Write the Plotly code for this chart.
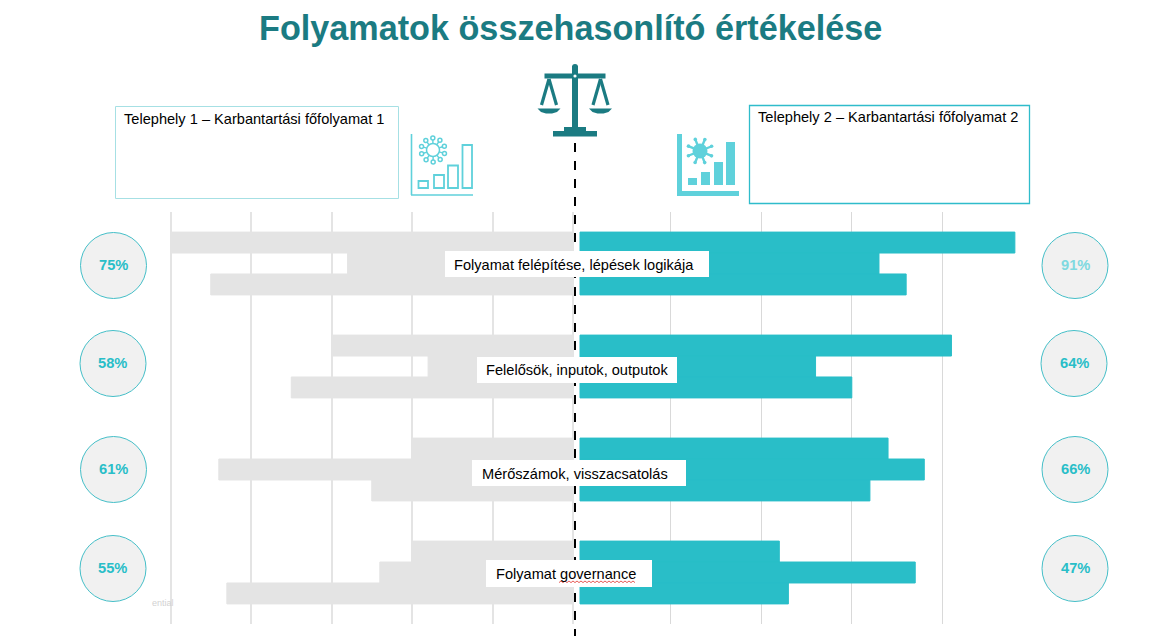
import math
import plotly.graph_objects as go

W, H = 1152, 636
FONT = "Liberation Sans"
TEAL = "#1B7B82"
CYAN = "#29BEC8"
ICON = "#5FD1DB"

categories = ["Folyamat felépítése, lépések logikája", "Felelősök, inputok, outputok",
              "Mérőszámok, visszacsatolás", "Folyamat governance"]
left_a = [100, 60, 40, 40]
left_b = [56, 36, 88, 48]
left_c = [90, 70, 50, 86]
right_a = [96, 82, 68, 44]
right_b = [66, 52, 76, 74]
right_c = [72, 60, 64, 46]
left_pct = ["75%", "58%", "61%", "55%"]
right_pct = ["91%", "64%", "66%", "47%"]
title = "Folyamatok összehasonlító értékelése"
site_1 = "Telephely 1 – Karbantartási főfolyamat 1"
site_2 = "Telephely 2 – Karbantartási főfolyamat 2"


def px(x):
    return x / W


def py(y):
    return 1 - y / H


fig = go.Figure()
for vals, name in zip([left_a, left_b, left_c], ["T1-A", "T1-B", "T1-C"]):
    fig.add_trace(go.Bar(y=categories, x=vals, orientation="h", name=name, xaxis="x", yaxis="y",
                         marker=dict(color="#E4E4E4", line=dict(width=1, color="#E4E4E4"))))
for vals, name in zip([right_a, right_b, right_c], ["T2-A", "T2-B", "T2-C"]):
    fig.add_trace(go.Bar(y=categories, x=vals, orientation="h", name=name, xaxis="x2", yaxis="y2",
                         marker=dict(color="#29BEC8", line=dict(width=1, color="#29BEC8"))))

shapes = []


def rect(x0, y0, x1, y1, fill="rgba(0,0,0,0)", line=None, lw=1):
    shapes.append(dict(type="rect", xref="paper", yref="paper", x0=px(x0), x1=px(x1), y0=py(y0), y1=py(y1),
                       fillcolor=fill, line=dict(color=line or fill, width=lw if line else 0), layer="above"))


def seg(x0, y0, x1, y1, color, lw, dash="solid"):
    shapes.append(dict(type="line", xref="paper", yref="paper", x0=px(x0), x1=px(x1), y0=py(y0), y1=py(y1),
                       line=dict(color=color, width=lw, dash=dash), layer="above"))


def circle(cx, cy, r, fill="rgba(0,0,0,0)", line=None, lw=1):
    shapes.append(dict(type="circle", xref="paper", yref="paper", x0=px(cx - r), x1=px(cx + r),
                       y0=py(cy + r), y1=py(cy - r), fillcolor=fill,
                       line=dict(color=line or fill, width=lw if line else 0), layer="above"))


def poly(points, fill):
    d = "M" + " L".join(f"{px(a):.5f},{py(b):.5f}" for a, b in points) + " Z"
    shapes.append(dict(type="path", xref="paper", yref="paper", path=d, fillcolor=fill,
                       line=dict(width=0), layer="above"))


# central dashed divider
seg(575, 143, 575, 636, "#000000", 2, "dash")

# category label boxes
boxes = [(445, 251, 709, 277), (477, 357, 677, 383), (472, 460, 686, 486), (486, 560, 652, 587)]
for b in boxes:
    rect(*b, fill="#FFFFFF")

# header boxes
rect(115.5, 106.5, 398.5, 198.5, fill="#FFFFFF", line="#A6E0E4")
rect(749.5, 105.5, 1029.5, 203.5, fill="#FFFFFF", line="#2FBCCB", lw=1.3)

# percentage circles
left_cy = [(113.5, 265.5), (113, 363.5), (113.5, 469.5), (113, 568.5)]
right_cy = [(1075, 265.5), (1074, 363.5), (1075, 469.5), (1075, 568.5)]
for cx, cy in left_cy + right_cy:
    circle(cx, cy, 33, fill="#F1F1F1", line="#45BFC8", lw=1)

# scale icon
seg(575, 66, 575, 130, TEAL, 6)
circle(575, 67, 3, fill=TEAL)
seg(544.5, 76, 605.5, 76, TEAL, 5)
rect(553, 131, 597, 136.5, fill=TEAL)
rect(564, 127, 586, 132, fill=TEAL)
circle(575, 76, 1.6, fill="#FFFFFF")
for c in (549, 600.5):
    seg(c, 79, c - 7.5, 105, TEAL, 3.2)
    seg(c, 79, c + 7.5, 105, TEAL, 3.2)
    poly([(c - 11.5, 108.5), (c + 11.5, 108.5), (c + 8, 112), (c + 3, 113.5), (c - 3, 113.5), (c - 8, 112)], TEAL)

# left (outlined) virus/bars icon
seg(411.5, 134, 411.5, 195, ICON, 1.6)
seg(411, 195, 473, 195, ICON, 1.6)
for x0, y0, x1, y1 in [(418.5, 181, 428, 188), (434, 175, 444, 188), (448, 165.5, 458, 188), (462.5, 145, 472, 188)]:
    rect(x0, y0, x1, y1, line=ICON, lw=1.8)
circle(433, 150, 6.5, line=ICON, lw=1.5)
for k in range(10):
    a = 2 * math.pi * k / 10 + 0.3
    seg(433 + 6.5 * math.cos(a), 150 + 6.5 * math.sin(a), 433 + 10 * math.cos(a), 150 + 10 * math.sin(a), ICON, 1.4)
    circle(433 + 12 * math.cos(a), 150 + 12 * math.sin(a), 2, fill="#FFFFFF", line=ICON, lw=1.5)

# right (solid) virus/bars icon
rect(677, 134, 682, 196, fill=ICON)
rect(677, 191, 739, 196, fill=ICON)
for x0, y0, x1, y1 in [(688, 178, 697, 185), (701, 172, 710, 185), (714, 162, 723, 185), (726, 142, 735, 185)]:
    rect(x0, y0, x1, y1, fill=ICON)
circle(700, 151, 7.5, fill=ICON)
for k in range(8):
    a = 2 * math.pi * k / 8 + 0.4
    seg(700 + 6 * math.cos(a), 151 + 6 * math.sin(a), 700 + 12 * math.cos(a), 151 + 12 * math.sin(a), ICON, 2.4)
    circle(700 + 12.5 * math.cos(a), 151 + 12.5 * math.sin(a), 1.8, fill=ICON)

# spell-check squiggle below the last label
sq = []
for i in range(39):
    sq.append((559 + i * 2, 581 if i % 2 else 582.6))
shapes.append(dict(type="path", xref="paper", yref="paper",
                   path="M" + " L".join(f"{px(a):.5f},{py(b):.5f}" for a, b in sq),
                   line=dict(color="#E0302A", width=0.8), layer="above"))


def label(x, y, text, size, color="#000000", bold=False, anchor="left"):
    return dict(xref="paper", yref="paper", x=px(x), y=py(y), text=f"<b>{text}</b>" if bold else text,
                showarrow=False, xanchor=anchor, yanchor="middle", align=anchor,
                font=dict(family=FONT, size=size, color=color), borderpad=0, borderwidth=0)


annotations = [
    label(570, 28.5, title, 34.2, TEAL, True, "center"),
    label(124, 119, site_1, 14.6),
    label(758, 117, site_2, 14.6),
    label(152, 603, "ential", 9, "#D2D2D2"),
]
for (x0, y0, x1, y1), c, xoff in zip(boxes, categories, [454, 486, 482, 496]):
    annotations.append(label(xoff, (y0 + y1) / 2 + 0.5, c, 14.6))
for (cx, cy), t in zip(left_cy, left_pct):
    annotations.append(label(cx - 0.5, cy - 1, t, 14.67, CYAN, True, "center"))
for (cx, cy), t, col in zip(right_cy, right_pct, ["#7FD9E0", CYAN, CYAN, CYAN]):
    annotations.append(label(cx, cy - 1, t, 14.67, col, True, "center"))

grid_vals = [0, 20, 40, 60, 80, 100]
fig.update_layout(
    width=W, height=H, margin=dict(l=0, r=0, t=0, b=0), autosize=False,
    paper_bgcolor="#FFFFFF", plot_bgcolor="#FFFFFF", showlegend=False,
    barmode="group", bargap=0.39, bargroupgap=0,
    xaxis=dict(domain=[px(169.5), px(574)], range=[100.25, -0.25], anchor="y", tickvals=grid_vals, showticklabels=False,
               ticks="", showgrid=True, gridcolor="#E4E4E4", gridwidth=2, zeroline=False, showline=False),
    xaxis2=dict(domain=[px(579.1), px(1033.9)], range=[-0.2, 100.2], anchor="y2", tickvals=grid_vals[:-1], showticklabels=False,
                ticks="", showgrid=True, gridcolor="#D9D9D9", gridwidth=1, zeroline=False, showline=False),
    yaxis=dict(domain=[py(624), py(212)], anchor="x", type="category", autorange="reversed",
               showticklabels=False, ticks="", showgrid=False, zeroline=False, showline=False),
    yaxis2=dict(domain=[py(624), py(212)], anchor="x2", type="category", autorange="reversed",
                showticklabels=False, ticks="", showgrid=False, zeroline=False, showline=False),
    shapes=shapes, annotations=annotations,
)
fig.write_html("out.html", config=dict(displayModeBar=False),
               post_script="document.body.style.margin='0';document.body.style.overflow='hidden';")
